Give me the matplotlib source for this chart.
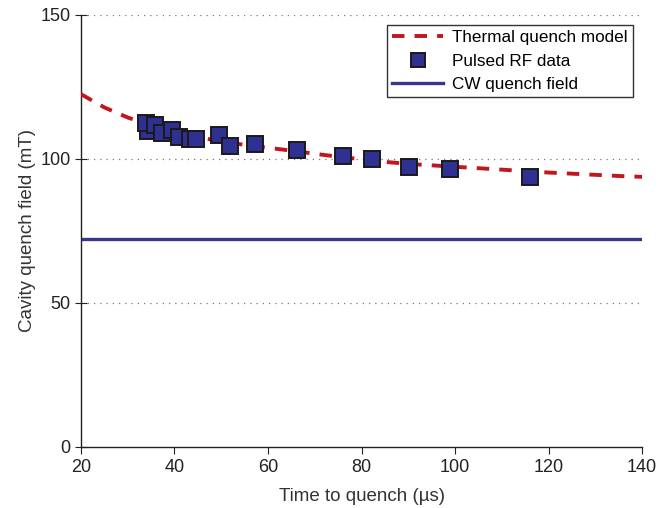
import numpy as np
import matplotlib.pyplot as plt

plt.rcParams['font.family'] = ['Liberation Sans', 'DejaVu Sans']

# thermal quench model curve (time in us, field in mT)
model_t = [20, 25, 30, 35, 40, 45, 50, 55, 60, 65, 70, 75, 80, 85, 90, 95, 100,
           105, 110, 115, 120, 125, 130, 135, 140]
model_b = [122.5, 117.9, 114.4, 111.7, 109.4, 107.6, 106.1, 104.9, 103.9, 102.9,
           101.8, 100.8, 99.9, 99.0, 98.3, 97.8, 97.3, 96.8, 96.3, 95.8, 95.3,
           94.9, 94.5, 94.1, 93.8]

# pulsed RF measurements
pulse_t = [34.4, 33.9, 35.8, 37.4, 39.4, 41.0, 43.3, 44.5, 49.5, 51.9, 57.2,
           66.1, 76.1, 82.2, 90.2, 98.9, 116.0]
pulse_b = [109.8, 112.4, 111.8, 109.1, 110.1, 107.7, 106.8, 106.8, 108.3, 104.5,
           105.2, 103.1, 101.0, 100.0, 97.3, 96.5, 93.9]

cw_field = 72.2

fig = plt.figure(figsize=(6.71, 5.08), dpi=100)
ax = fig.add_axes([0.1207, 0.1201, 0.8361, 0.8504])

ax.axhline(cw_field, color='#35368c', lw=2.4, label='CW quench field', zorder=2)
ax.plot(model_t, model_b, color='#c0161e', lw=2.8, ls=(0, (3.2, 2.6)),
        label='Thermal quench model', zorder=3)
ax.plot(pulse_t, pulse_b, ls='none', marker='s', ms=11.5, mfc='#2e3192',
        mec='#1a1a1a', mew=1.4, label='Pulsed RF data', zorder=4)

ax.set_xlim(20, 140)
ax.set_ylim(0, 150)
ax.set_xticks(np.arange(20, 141, 20))
ax.set_yticks([0, 50, 100, 150])
for y in [50, 100, 150]:
    ax.axhline(y, color='#777777', lw=0.9, ls=(0, (1, 4)), zorder=1)

for s in ['top', 'right']:
    ax.spines[s].set_visible(False)
for s in ['left', 'bottom']:
    ax.spines[s].set_linewidth(1.0)
    ax.spines[s].set_color('#222222')
ax.tick_params(axis='x', direction='out', length=5, labelsize=13, colors='#222222')
ax.tick_params(axis='y', direction='inout', length=8, labelsize=13, colors='#222222')

ax.set_xlabel('Time to quench (\u00b5s)', fontsize=13.5, color='#333333', labelpad=9)
ax.set_ylabel('Cavity quench field (mT)', fontsize=13.5, color='#333333', labelpad=3)

h, l = ax.get_legend_handles_labels()
order = [1, 2, 0]
leg = ax.legend([h[i] for i in order], [l[i] for i in order], loc='upper right',
                bbox_to_anchor=(0.984, 0.977), borderaxespad=0, fontsize=12.3,
                fancybox=False, framealpha=1, edgecolor='#333333',
                handlelength=3.0, borderpad=0.32, labelspacing=0.48,
                handletextpad=0.5, markerscale=0.85)
leg.get_frame().set_linewidth(1.0)

fig.savefig('out.png', dpi=100)
